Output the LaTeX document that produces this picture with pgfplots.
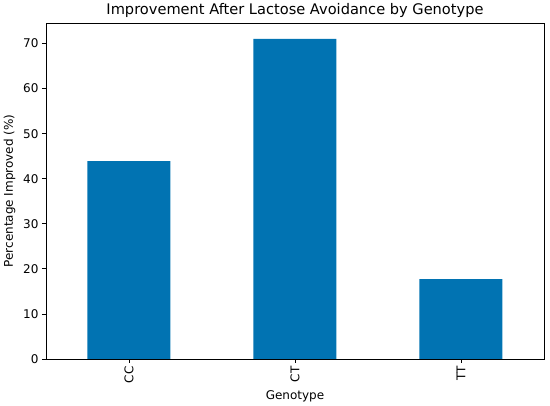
\documentclass[border=0pt]{standalone}
\usepackage{pgfplots}
\pgfplotsset{compat=1.18}
\usepackage{fontspec}
\setmainfont{DejaVu Sans}
\definecolor{barblue}{HTML}{0173B2}
\begin{document}
\begin{tikzpicture}
\useasboundingbox (-46pt,-47pt) rectangle (504pt,359pt);
\begin{axis}[
  at={(0,0)}, anchor=south west,
  scale only axis,
  width=498pt, height=336pt,
  xmin=-0.5, xmax=2.5,
  ymin=0, ymax=74.55,
  xtick={0,1,2},
  xticklabels={CC,CT,TT},
  x tick label style={rotate=90, anchor=east, font=\fontsize{12}{14}\selectfont},
  ytick={0,10,20,30,40,50,60,70},
  y tick label style={font=\fontsize{12}{14}\selectfont},
  /pgf/number format/assume math mode=true,
  tick align=outside,
  tick pos=left,
  major tick length=4pt,
  tick style={black, line width=0.8pt},
  axis line style={black, line width=0.8pt},
  title={Improvement After Lactose Avoidance by Genotype},
  title style={font=\fontsize{14.6}{16}\selectfont, yshift=-4pt},
  xlabel={Genotype},
  ylabel={Percentage Improved (\%)},
  label style={font=\fontsize{12}{14}\selectfont},
  xlabel style={yshift=0pt},
  ylabel style={yshift=1pt},
  ybar, bar width=83pt,
]
\addplot[fill=barblue, draw=none, bar shift=0pt] coordinates {(0,43.9) (1,71.0) (2,17.7)};
\end{axis}
\end{tikzpicture}
\end{document}
